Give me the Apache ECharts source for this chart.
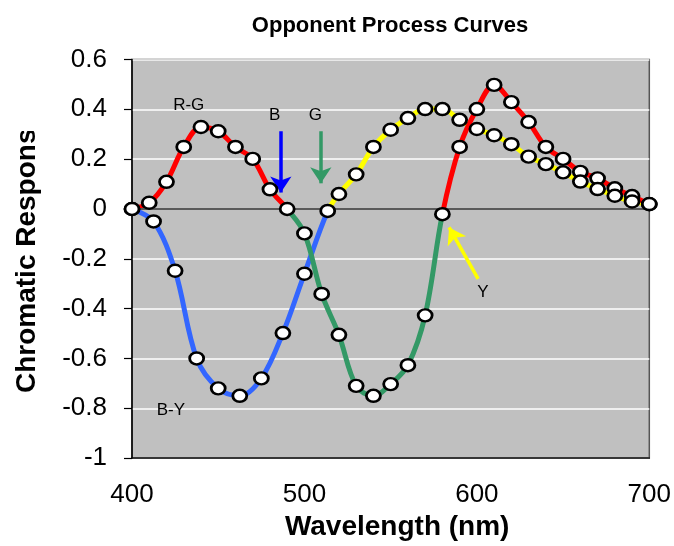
<!DOCTYPE html>
<html>
<head>
<meta charset="utf-8">
<title>Opponent Process Curves</title>
<script src="https://cdn.jsdelivr.net/npm/echarts@6/dist/echarts.min.js"></script>
<style>
  html, body { margin: 0; padding: 0; background: #fff; }
  #chart { width: 674px; height: 546px; }
</style>
</head>
<body>
<div id="chart"></div>
<script>
// Red-green opponent channel
const wavelengthRG = [400, 410, 420, 430, 440, 450, 460, 470, 480, 490, 500, 510, 520, 530, 540, 550,
                      560, 570, 580, 590, 600, 610, 620, 630, 640, 650, 660, 670, 680, 690, 700];
const responseRG = [0, 0.025, 0.109, 0.249, 0.329, 0.312, 0.249, 0.201, 0.079, 0, -0.098, -0.341, -0.505,
                    -0.71, -0.75, -0.703, -0.627, -0.427, -0.021, 0.249, 0.401, 0.498, 0.429, 0.349, 0.249,
                    0.201, 0.149, 0.123, 0.083, 0.052, 0.019];

// Blue-yellow opponent channel
const wavelengthBY = [400, 412.5, 425, 437.5, 450, 462.5, 475, 487.5, 500, 513.5, 520, 530, 540, 550, 560,
                      570, 580, 590, 600, 610, 620, 630, 640, 650, 660, 670, 680, 690, 700];
const responseBY = [0, -0.05, -0.248, -0.6, -0.72, -0.75, -0.68, -0.498, -0.26, -0.008, 0.06, 0.139, 0.249,
                    0.318, 0.365, 0.401, 0.401, 0.358, 0.321, 0.296, 0.26, 0.21, 0.18, 0.147, 0.11, 0.08,
                    0.053, 0.03, 0.02];

// Axis ticks
const xTicks = [400, 500, 600, 700];
const yTicks = [-1, -0.8, -0.6, -0.4, -0.2, 0, 0.2, 0.4, 0.6];

// Curve labels and unique-hue markers: [wavelength, response]
const curveLabels = ['R-G', 'B-Y', 'B', 'G', 'Y'];
const curveLabelPos = [[432.9, 0.418], [422.5, -0.81], [482.8, 0.374], [506.4, 0.374], [603.5, -0.333]];
const hueArrows = [
  { name: 'B', from: [486.3, 0.312], to: [486.3, 0.066], color: '#0000FF' },
  { name: 'G', from: [509.5, 0.312], to: [509.5, 0.103], color: '#339966' },
  { name: 'Y', from: [600.7, -0.281], to: [583.9, -0.074], color: '#FFFF00' }
];

const FONT = '"Liberation Sans", Arial, Helvetica, sans-serif';
const RED = '#FF0000', GREEN = '#339966', BLUE = '#3366FF', YELLOW = '#FFFF00';

const zip = (xs, ys) => xs.map((x, i) => [x, ys[i]]);
const rgData = zip(wavelengthRG, responseRG);
const byData = zip(wavelengthBY, responseBY);

const markerStyle = {
  type: 'scatter',
  symbol: 'circle',
  symbolSize: [14, 12],
  itemStyle: { color: '#FFFFFF', borderColor: '#000000', borderWidth: 2.6, opacity: 1 },
  z: 5,
  silent: true
};

const chart = echarts.init(document.getElementById('chart'), null, { renderer: 'canvas' });

chart.setOption({
  animation: false,
  backgroundColor: '#FFFFFF',
  title: {
    text: 'Opponent Process Curves',
    left: 385,
    top: 10,
    textAlign: 'center',
    textStyle: { fontFamily: FONT, fontSize: 22, fontWeight: 'bold', color: '#000' }
  },
  grid: {
    left: 132, right: 24.5, top: 59.5, bottom: 86,
    show: true,
    backgroundColor: '#C0C0C0',
    borderColor: '#555555',
    borderWidth: 1.5
  },
  visualMap: [
    {
      type: 'piecewise', show: false, seriesIndex: 1, dimension: 1,
      pieces: [{ gt: -5, lt: 0, color: BLUE }, { gte: 0, lt: 5, color: YELLOW }]
    },
    {
      type: 'piecewise', show: false, seriesIndex: 2, dimension: 1,
      pieces: [{ gt: -5, lt: 0, color: GREEN }, { gte: 0, lt: 5, color: RED }]
    }
  ],
  xAxis: {
    type: 'value',
    min: xTicks[0], max: xTicks[xTicks.length - 1], interval: 100,
    name: 'Wavelength (nm)',
    nameLocation: 'middle',
    nameGap: 53,
    nameTextStyle: { fontFamily: FONT, fontSize: 28, fontWeight: 'bold', color: '#000', padding: [0, 0, 0, 13] },
    axisLine: { onZero: false, lineStyle: { color: '#000', width: 1.5 } },
    axisTick: { show: false },
    splitLine: { show: false },
    axisLabel: { fontFamily: FONT, fontSize: 26, color: '#000', margin: 24,
                 formatter: v => xTicks.includes(v) ? String(v) : '' }
  },
  yAxis: {
    type: 'value',
    min: yTicks[0], max: yTicks[yTicks.length - 1], interval: 0.2,
    axisLine: { show: true, lineStyle: { color: '#000', width: 1.5 } },
    axisTick: { show: true, length: 8, lineStyle: { color: '#000', width: 1.2 } },
    splitLine: { show: true, lineStyle: { color: '#FFFFFF', width: 1.5 } },
    axisLabel: { fontFamily: FONT, fontSize: 26, color: '#000', margin: 25,
                 formatter: v => String(Math.round(v * 10) / 10) }
  },
  series: [
    {
      // zero reference line, drawn beneath the curves
      name: 'zero',
      type: 'line',
      data: [],
      z: 1,
      markLine: {
        silent: true,
        symbol: 'none',
        label: { show: false },
        lineStyle: { color: '#5A5A5A', width: 2, type: 'solid' },
        data: [{ yAxis: 0 }]
      }
    },
    {
      name: 'B-Y',
      type: 'line',
      data: byData,
      smooth: 0.35,
      showSymbol: false,
      lineStyle: { width: 5 },
      z: 2
    },
    {
      name: 'R-G',
      type: 'line',
      data: rgData,
      smooth: 0.35,
      showSymbol: false,
      lineStyle: { width: 5 },
      z: 3
    },
    Object.assign({ name: 'R-G markers', data: rgData }, markerStyle),
    Object.assign({ name: 'B-Y markers', data: byData }, markerStyle, { z: 6 }),
    {
      name: 'labels',
      type: 'scatter',
      data: curveLabelPos.map((p, i) => ({ value: p, name: curveLabels[i] })),
      symbolSize: 1,
      itemStyle: { color: 'rgba(0,0,0,0)', opacity: 1 },
      silent: true,
      z: 7,
      label: {
        show: true,
        position: 'inside',
        formatter: p => p.name,
        fontFamily: FONT,
        fontSize: 17,
        color: '#000000',
        opacity: 1
      },
      // unique-hue arrows
      markLine: {
        silent: true,
        label: { show: false },
        data: hueArrows.map(a => [
          { coord: a.from, symbol: 'none', lineStyle: { color: a.color, width: 3.5, type: 'solid', opacity: 1 } },
          { coord: a.to, symbol: 'arrow', symbolSize: 16 }
        ])
      }
    }
  ],
  graphic: [
    {
      type: 'text',
      x: 27, y: 393,
      rotation: Math.PI / 2,
      z: 10,
      style: {
        text: 'Chromatic Response',
        font: 'bold 28px ' + FONT,
        fill: '#000',
        textAlign: 'left',
        textVerticalAlign: 'middle'
      }
    },
    {
      type: 'rect',
      shape: { x: 0, y: 0, width: 62, height: 131 },
      style: { fill: '#FFFFFF' },
      z: 11,
      silent: true
    }
  ]
});
</script>
</body>
</html>
